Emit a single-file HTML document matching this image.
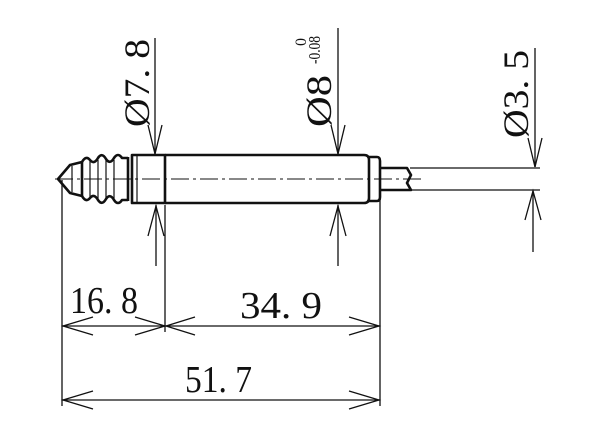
<!DOCTYPE html>
<html><head><style>body{margin:0;background:#fff}svg{display:block}
text{font-family:"Liberation Serif",serif;fill:#111}</style></head><body>
<svg width="600" height="439" viewBox="0 0 600 439" xmlns="http://www.w3.org/2000/svg">
<g fill="none" stroke="#111" stroke-width="1.3">
<line x1="62" y1="180" x2="62" y2="406"/>
<line x1="165" y1="205" x2="165" y2="332"/>
<line x1="380" y1="190" x2="380" y2="406"/>
<line x1="410" y1="168" x2="540" y2="168"/>
<line x1="410" y1="190" x2="540" y2="190"/>
<line x1="62" y1="326" x2="380" y2="326"/>
<line x1="62" y1="400" x2="380" y2="400"/>
<path d="M93 317 L63 326 L93 335 M135 317 L165 326 L135 335 M195 317 L166 326 L195 335 M349 317 L379 326 L349 335"/>
<path d="M93 391 L63 400 L93 409 M349 391 L379 400 L349 409"/>
<line x1="155" y1="38" x2="155" y2="155"/>
<line x1="156" y1="205" x2="156" y2="266"/>
<path d="M148 125 L155 154 L162 125 M148 236 L156 206 L164 236"/>
<line x1="338" y1="28" x2="338" y2="155"/>
<line x1="338" y1="205" x2="338" y2="266"/>
<path d="M331 125 L338 154 L345 125 M330 236 L338 206 L346 236"/>
<line x1="535" y1="48" x2="535" y2="167"/>
<line x1="533" y1="191" x2="533" y2="252"/>
<path d="M528 138 L535 167 L542 138 M525 220 L533 191 L541 220"/>
</g>
<line x1="55" y1="179" x2="425" y2="179" stroke="#111" stroke-width="1" stroke-dasharray="18,4,3,4"/>
<g fill="none" stroke="#111" stroke-width="2.6" stroke-linejoin="round">
<path d="M58 179 L70 165 L82 162 L82 196 L70 193 Z"/>
<path d="M82 162 Q86 155 90 160 Q94 165 98 158 Q102 152 106 159 Q110 165 114 158 Q118 152 122 158 L128 158"/>
<path d="M82 196 Q86 203 90 198 Q94 193 98 200 Q102 206 106 199 Q110 193 114 200 Q118 206 122 200 L128 200"/>
<path d="M128 157 L128 201"/>
<rect x="132" y="155" width="33" height="48"/>
<path d="M165 155 L364 155 Q369 155 369 160 L369 198 Q369 203 364 203 L165 203"/>
<path d="M369 157 L377 157 Q380 157 380 161 L380 197 Q380 201 377 201 L369 201"/>
<path d="M380 168 L407 168 L411 175 L407 183 L411 190 L380 190"/>
</g>
<g stroke="#111" stroke-width="1.2">
<line x1="90" y1="161" x2="90" y2="198"/><line x1="98" y1="160" x2="98" y2="199"/>
<line x1="106" y1="160" x2="106" y2="199"/><line x1="114" y1="160" x2="114" y2="199"/>
<line x1="137" y1="155" x2="137" y2="203"/><line x1="72" y1="166" x2="72" y2="192"/>
</g>
<text x="70" y="313" font-size="38" textLength="68" lengthAdjust="spacingAndGlyphs">16. 8</text>
<text x="240" y="318" font-size="38" textLength="82" lengthAdjust="spacingAndGlyphs">34.  9</text>
<text x="185" y="392" font-size="38" textLength="67" lengthAdjust="spacingAndGlyphs">51. 7</text>
<text transform="translate(149,127) rotate(-90)" font-size="36" textLength="88" lengthAdjust="spacingAndGlyphs">Ø7. 8</text>
<text transform="translate(331,127) rotate(-90)" font-size="36" textLength="52" lengthAdjust="spacingAndGlyphs">Ø8</text>
<text transform="translate(320,64) rotate(-90)" font-size="17" textLength="28" lengthAdjust="spacingAndGlyphs">-0.08</text>
<text transform="translate(306,46) rotate(-90)" font-size="16">0</text>
<text transform="translate(528,138) rotate(-90)" font-size="36" textLength="88" lengthAdjust="spacingAndGlyphs">Ø3. 5</text>
</svg>
</body></html>
